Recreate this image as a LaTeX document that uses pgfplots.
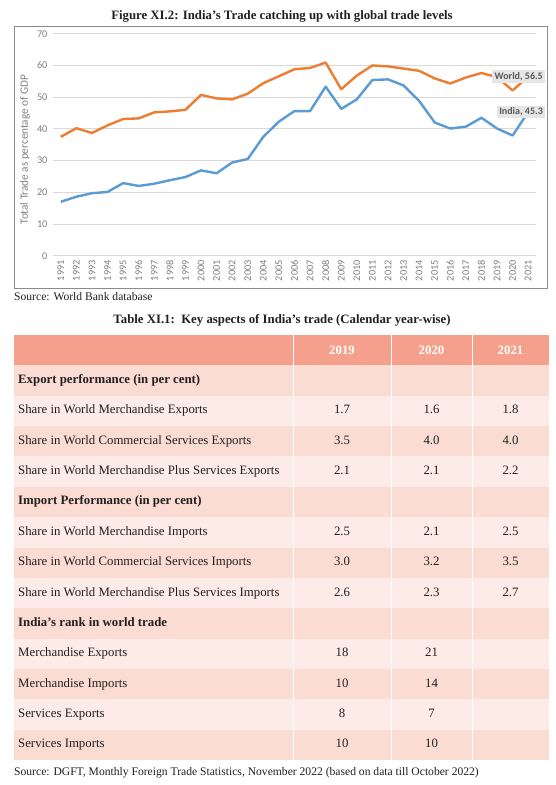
\documentclass[border=0pt]{standalone}
\usepackage{pgfplots}
\pgfplotsset{compat=1.18}
\usepackage{pgfplotstable}
\usepackage{fontspec}
\setmainfont{Liberation Serif}
\newfontfamily\calibri{Carlito}
\definecolor{indiablue}{HTML}{5B9BD5}
\definecolor{worldorange}{HTML}{ED7D31}
\definecolor{tickgray}{HTML}{808080}
\definecolor{gridgray}{HTML}{D9D9D9}
\definecolor{framegray}{HTML}{8C8C8C}
\definecolor{hdr}{HTML}{F4A08C}
\definecolor{banddark}{HTML}{FADCD3}
\definecolor{bandlight}{HTML}{FCEBE6}
\definecolor{labelbox}{HTML}{E6E6E6}
\definecolor{labeltext}{HTML}{595959}
\definecolor{txt}{HTML}{231F20}

\pgfplotstableread{
year india world
1991 17.0 37.5
1992 18.6 40.2
1993 19.7 38.7
1994 20.1 41.1
1995 22.9 43.1
1996 22.0 43.3
1997 22.7 45.2
1998 23.8 45.5
1999 24.8 46.0
2000 26.9 50.7
2001 26.0 49.6
2002 29.4 49.3
2003 30.5 51.1
2004 37.5 54.4
2005 42.3 56.6
2006 45.6 58.8
2007 45.6 59.2
2008 53.3 60.9
2009 46.3 52.5
2010 49.3 56.8
2011 55.4 60.0
2012 55.6 59.7
2013 53.7 59.0
2014 48.8 58.3
2015 42.0 55.9
2016 40.1 54.3
2017 40.7 56.2
2018 43.5 57.6
2019 40.1 56.3
2020 37.9 52.1
2021 45.3 56.5
}\tradedata

\newcommand{\tfont}{\fontsize{12.8}{14}\selectfont}
\newcommand{\cfont}{\calibri\fontsize{10.3}{11}\selectfont}

\begin{document}
\begin{tikzpicture}
\path[use as bounding box, fill=white] (0,0) rectangle (555pt,-785pt);
\begin{scope}[x=1pt,y=-1pt]
  % figure title
  \node[font=\tfont\bfseries, text=txt] at (282,16) {Figure XI.2: India's Trade catching up with global trade levels};
  % chart frame
  \draw[framegray, line width=1pt] (14,26) rectangle (547,288);
  % source
  \node[anchor=west, font=\fontsize{11.6}{13}\selectfont, text=txt, inner sep=0pt] at (14,297) {Source: World Bank database};
  % table title
  \node[font=\tfont\bfseries, text=txt] at (282,320) {Table XI.1:\ \ Key aspects of India's trade (Calendar year-wise)};
  % table header
  \fill[hdr] (14,335) rectangle (549,365.36);
  % bands
  \foreach \i in {1,...,13}{
    \pgfmathsetmacro{\ytop}{335+30.36*\i}
    \pgfmathsetmacro{\ybot}{\ytop+30.36}
    \pgfmathtruncatemacro{\odd}{mod(\i,2)}
    \ifnum\odd=1
      \fill[banddark] (14,\ytop) rectangle (549,\ybot);
    \else
      \fill[bandlight] (14,\ytop) rectangle (549,\ybot);
    \fi
  }
  % vertical separators
  \foreach \xx in {293,391,472}{
    \draw[white, line width=0.8pt] (\xx,335) -- (\xx,760);
  }
  % header text
  \foreach \yr/\xc in {2019/342,2020/431.5,2021/510.5}{
    \node[font=\tfont\bfseries, text=white] at (\xc,350.2) {\yr};
  }
  % row texts
  \foreach \i/\lab/\a/\b/\c/\bold in {
    1/{Export performance (in per cent)}/{}/{}/{}/1,
    2/{Share in World Merchandise Exports}/1.7/1.6/1.8/0,
    3/{Share in World Commercial Services Exports}/3.5/4.0/4.0/0,
    4/{Share in World Merchandise Plus Services Exports}/2.1/2.1/2.2/0,
    5/{Import Performance (in per cent)}/{}/{}/{}/1,
    6/{Share in World Merchandise Imports}/2.5/2.1/2.5/0,
    7/{Share in World Commercial Services Imports}/3.0/3.2/3.5/0,
    8/{Share in World Merchandise Plus Services Imports}/2.6/2.3/2.7/0,
    9/{India's rank in world trade}/{}/{}/{}/1,
    10/{Merchandise Exports}/18/21/{}/0,
    11/{Merchandise Imports}/10/14/{}/0,
    12/{Services Exports}/8/7/{}/0,
    13/{Services Imports}/10/10/{}/0}{
    \pgfmathsetmacro{\yc}{335+30.36*\i+15.18}
    \ifnum\bold=1
      \node[anchor=west, font=\tfont\bfseries, text=txt, inner sep=0pt, text height=8.8pt, text depth=2.8pt] at (18,\yc) {\lab};
    \else
      \node[anchor=west, font=\tfont, text=txt, inner sep=0pt, text height=8.8pt, text depth=2.8pt] at (18,\yc) {\lab};
    \fi
    \node[font=\tfont, text=txt, inner sep=0pt, text height=8.8pt, text depth=2.8pt] at (342,\yc) {\a};
    \node[font=\tfont, text=txt, inner sep=0pt, text height=8.8pt, text depth=2.8pt] at (431.5,\yc) {\b};
    \node[font=\tfont, text=txt, inner sep=0pt, text height=8.8pt, text depth=2.8pt] at (510.5,\yc) {\c};
  }
  % table source
  \node[anchor=west, font=\fontsize{11.6}{13}\selectfont, text=txt, inner sep=0pt] at (14,773) {Source: DGFT, Monthly Foreign Trade Statistics, November 2022 (based on data till October 2022)};
\end{scope}

\begin{axis}[
  at={(53pt,-255.7pt)}, anchor=south west,
  scale only axis, width=483pt, height=222pt,
  xmin=1990.5, xmax=2021.5, ymin=0, ymax=70,
  xtick={1991,...,2021}, ytick={0,10,...,70},
  axis line style={draw=none}, major tick style={draw=none},
  ymajorgrids, grid style={gridgray, line width=0.9pt},
  clip=false,
  /pgf/number format/1000 sep={},
  /pgf/number format/assume math mode=true,
  xticklabel style={rotate=90, anchor=east, font=\cfont, text=tickgray, xshift=-1pt},
  yticklabel style={font=\cfont, text=tickgray, xshift=-2pt},
  ylabel={Total Trade as percentage of GDP},
  ylabel style={font=\calibri\fontsize{11.2}{12}\selectfont, text=tickgray,
    at={(axis description cs:-0.058,0.478)}, anchor=center},
]
\addplot[worldorange, line width=2.4pt, line join=round] table[x=year,y=world]{\tradedata};
\addplot[indiablue, line width=2.4pt, line join=round] table[x=year,y=india]{\tradedata};
\node[fill=labelbox, text=labeltext, font=\calibri\bfseries\fontsize{10}{11}\selectfont, inner xsep=2.2pt, inner ysep=1pt, minimum height=13pt, anchor=east] at (axis cs:2021,56.5) [xshift=17pt] {World, 56.5};
\node[fill=labelbox, text=labeltext, font=\calibri\bfseries\fontsize{10}{11}\selectfont, inner xsep=2.2pt, inner ysep=1pt, minimum height=12pt, anchor=east] at (axis cs:2021,45.3) [xshift=17pt] {India, 45.3};
\end{axis}
\end{tikzpicture}
\end{document}
